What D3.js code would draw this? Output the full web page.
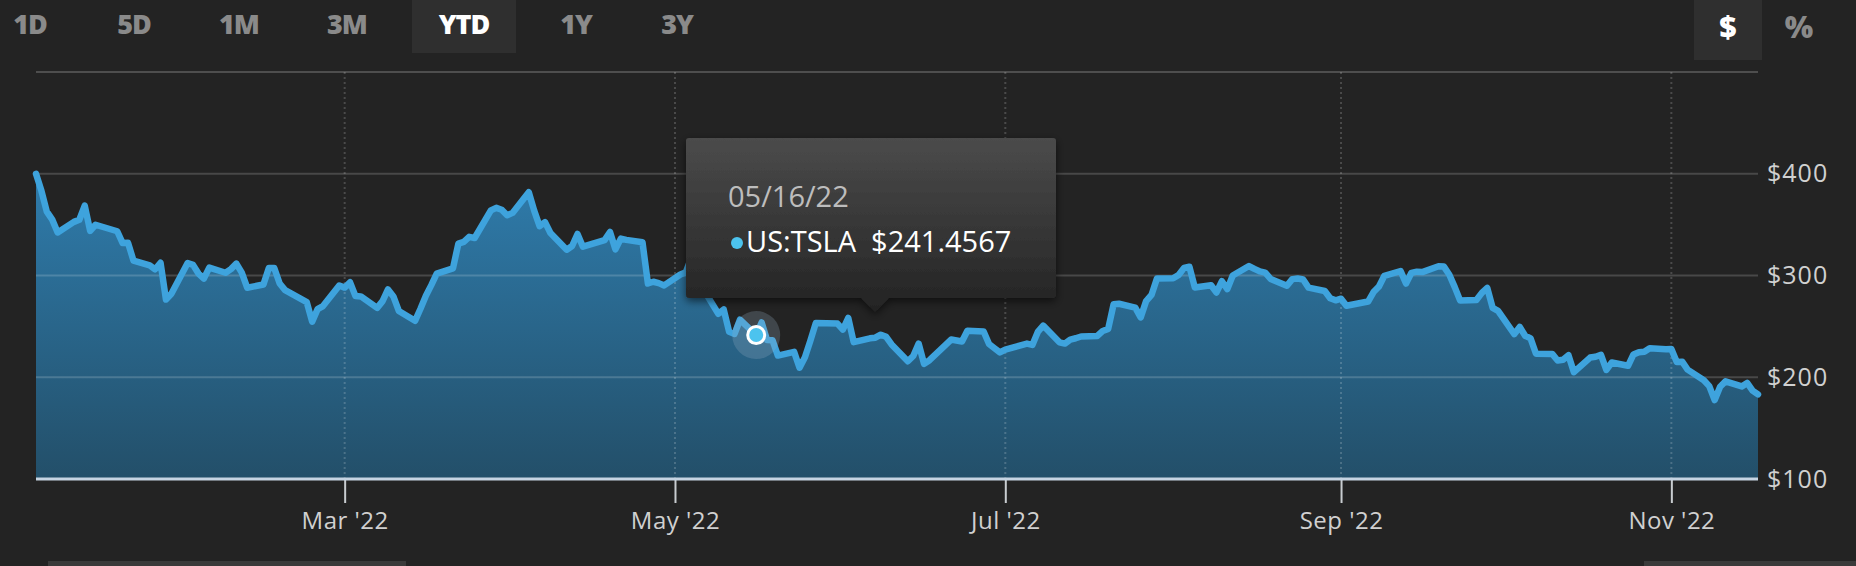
<!DOCTYPE html>
<html><head><meta charset="utf-8">
<script src="https://cdn.jsdelivr.net/npm/d3@7"></script>
<style>html,body{margin:0;padding:0;background:#232323;overflow:hidden}</style>
</head><body><svg id="c" width="1856" height="566"></svg>
<script>
// ---------- data ----------
const rangeButtons = ["1D","5D","1M","3M","YTD","1Y","3Y"];
const activeRange = "YTD";
const unitButtons = ["$","%"];
const activeUnit = "$";
const seriesName = "US:TSLA";
const dates = [
 "2022-01-03","2022-01-04","2022-01-05","2022-01-06","2022-01-07","2022-01-10","2022-01-11","2022-01-12","2022-01-13","2022-01-14","2022-01-18","2022-01-19","2022-01-20","2022-01-21","2022-01-24","2022-01-25","2022-01-26","2022-01-27","2022-01-28","2022-01-31",
 "2022-02-01","2022-02-02","2022-02-03","2022-02-04","2022-02-07","2022-02-08","2022-02-09","2022-02-10","2022-02-11","2022-02-14","2022-02-15","2022-02-16","2022-02-17","2022-02-18","2022-02-22","2022-02-23","2022-02-24","2022-02-25","2022-02-28",
 "2022-03-01","2022-03-02","2022-03-03","2022-03-04","2022-03-07","2022-03-08","2022-03-09","2022-03-10","2022-03-11","2022-03-14","2022-03-15","2022-03-16","2022-03-17","2022-03-18","2022-03-21","2022-03-22","2022-03-23","2022-03-24","2022-03-25","2022-03-28","2022-03-29","2022-03-30","2022-03-31",
 "2022-04-01","2022-04-04","2022-04-05","2022-04-06","2022-04-07","2022-04-08","2022-04-11","2022-04-12","2022-04-13","2022-04-14","2022-04-18","2022-04-19","2022-04-20","2022-04-21","2022-04-22","2022-04-25","2022-04-26","2022-04-27","2022-04-28","2022-04-29",
 "2022-05-02","2022-05-03","2022-05-04","2022-05-05","2022-05-06","2022-05-09","2022-05-10","2022-05-11","2022-05-12","2022-05-13","2022-05-16","2022-05-17","2022-05-18","2022-05-19","2022-05-20","2022-05-23","2022-05-24","2022-05-25","2022-05-26","2022-05-27","2022-05-31",
 "2022-06-01","2022-06-02","2022-06-03","2022-06-06","2022-06-07","2022-06-08","2022-06-09","2022-06-10","2022-06-13","2022-06-14","2022-06-15","2022-06-16","2022-06-17","2022-06-21","2022-06-22","2022-06-23","2022-06-24","2022-06-27","2022-06-28","2022-06-29","2022-06-30",
 "2022-07-01","2022-07-05","2022-07-06","2022-07-07","2022-07-08","2022-07-11","2022-07-12","2022-07-13","2022-07-14","2022-07-15","2022-07-18","2022-07-19","2022-07-20","2022-07-21","2022-07-22","2022-07-25","2022-07-26","2022-07-27","2022-07-28","2022-07-29",
 "2022-08-01","2022-08-02","2022-08-03","2022-08-04","2022-08-05","2022-08-08","2022-08-09","2022-08-10","2022-08-11","2022-08-12","2022-08-15","2022-08-16","2022-08-17","2022-08-18","2022-08-19","2022-08-22","2022-08-23","2022-08-24","2022-08-25","2022-08-26","2022-08-29","2022-08-30","2022-08-31",
 "2022-09-01","2022-09-02","2022-09-06","2022-09-07","2022-09-08","2022-09-09","2022-09-12","2022-09-13","2022-09-14","2022-09-15","2022-09-16","2022-09-19","2022-09-20","2022-09-21","2022-09-22","2022-09-23","2022-09-26","2022-09-27","2022-09-28","2022-09-29","2022-09-30",
 "2022-10-03","2022-10-04","2022-10-05","2022-10-06","2022-10-07","2022-10-10","2022-10-11","2022-10-12","2022-10-13","2022-10-14","2022-10-17","2022-10-18","2022-10-19","2022-10-20","2022-10-21","2022-10-24","2022-10-25","2022-10-26","2022-10-27","2022-10-28","2022-10-31",
 "2022-11-01","2022-11-02","2022-11-03","2022-11-04","2022-11-07","2022-11-08","2022-11-09","2022-11-10","2022-11-11","2022-11-14","2022-11-15","2022-11-16","2022-11-17"
];
const closes = [
 399.93,383.20,362.71,354.90,342.32,352.71,354.80,368.74,343.85,349.87,343.50,331.88,332.09,314.63,310.00,306.13,312.47,276.37,282.12,312.24,
 310.42,301.89,297.05,307.77,302.69,306.30,311.67,302.79,288.02,291.12,307.48,307.33,292.14,285.66,273.84,254.68,266.92,269.96,290.14,
 288.12,293.30,279.76,279.43,268.19,274.80,286.32,279.43,265.12,255.46,267.30,280.08,290.53,301.80,307.05,331.33,333.04,337.97,336.88,363.95,366.52,364.66,359.20,
 361.53,381.82,363.75,348.59,352.42,341.83,325.31,328.98,340.79,328.33,334.76,342.72,325.73,336.26,335.02,332.67,292.14,293.84,292.50,290.25,
 300.98,303.08,317.54,291.09,288.55,262.37,266.68,244.67,242.67,256.53,241.46,253.87,236.60,236.47,221.30,224.97,209.39,219.60,235.91,253.21,252.75,
 246.79,258.33,234.52,238.28,238.89,241.87,239.71,232.23,215.74,220.89,233.00,213.10,216.76,237.04,236.09,235.07,245.71,244.92,232.66,228.49,224.47,
 227.26,233.07,231.73,244.54,250.76,234.34,233.07,237.04,238.31,240.07,240.55,245.53,247.50,271.71,272.24,268.43,258.86,274.82,280.90,297.15,
 297.28,300.59,307.40,308.63,288.17,290.42,283.33,294.36,286.63,300.03,309.32,306.56,303.99,302.87,296.67,289.91,296.45,297.10,296.07,288.09,284.82,277.70,275.61,
 277.16,270.21,274.42,283.70,289.26,299.68,304.42,292.13,302.61,303.75,303.35,309.07,308.73,300.80,288.59,275.33,276.01,282.94,287.81,268.21,265.25,
 242.40,249.44,240.81,238.13,223.07,222.96,216.50,217.24,221.72,204.99,219.35,220.19,222.04,207.28,214.44,211.25,222.42,224.64,225.09,228.52,227.54,
 227.82,214.98,215.31,207.47,197.08,191.30,177.59,190.72,195.97,190.95,194.42,186.92,183.17
];
const xTickDates = ["2022-03-01","2022-05-01","2022-07-01","2022-09-01","2022-11-01"];
const yTickValues = [100,200,300,400];
const hoverDate = "2022-05-16";
const hoverValue = 241.4567;

// ---------- layout ----------
const svg = d3.select("#c");
const W = 1856, H = 566;
const pL = 36, pR = 1758, pT = 72, pB = 479;
const parse = d3.utcParse("%Y-%m-%d");
const data = dates.map((d,i)=>({date:parse(d), value:closes[i]}));

const x = d3.scaleUtc().domain(d3.extent(data, d=>d.date)).range([pL,pR]);
const y = d3.scaleLinear().domain([100,500]).range([pB,pT]);

svg.append("rect").attr("width",W).attr("height",H).attr("fill","#232323");

const defs = svg.append("defs");
const ag = defs.append("linearGradient").attr("id","areaGrad").attr("gradientUnits","userSpaceOnUse")
  .attr("x1",0).attr("x2",0).attr("y1",y(400)).attr("y2",pB);
ag.append("stop").attr("offset",0).attr("stop-color","#2f7cac");
ag.append("stop").attr("offset",1).attr("stop-color","#234f69");
const tg = defs.append("linearGradient").attr("id","tipGrad").attr("x1",0).attr("x2",0).attr("y1",0).attr("y2",1);
tg.append("stop").attr("offset",0).attr("stop-color","#4b4b4b");
tg.append("stop").attr("offset",1).attr("stop-color","#232323");
const sh = defs.append("filter").attr("id","shadow").attr("x","-20%").attr("y","-20%").attr("width","140%").attr("height","150%");
sh.append("feDropShadow").attr("dx",0).attr("dy",3).attr("stdDeviation",4).attr("flood-color","#000").attr("flood-opacity",0.6);

// buttons
const btnX = [30,134,239,347,464,576,677];
const bg = svg.append("g");
rangeButtons.forEach((b,i)=>{
  if(b===activeRange) bg.append("rect").attr("x",btnX[i]-52).attr("y",0).attr("width",104).attr("height",53).attr("fill","#2f2f2f");
  bg.append("text").attr("x",btnX[i]).attr("y",34).attr("text-anchor","middle")
    .attr("font-family","'Open Sans', sans-serif").attr("font-weight",800).attr("font-size",27)
    .attr("letter-spacing",-1)
    .attr("fill", b===activeRange ? "#ffffff" : "#8a8a8a").text(b);
});
const unitX = [1728,1799];
unitButtons.forEach((b,i)=>{
  if(b===activeUnit) bg.append("rect").attr("x",1694).attr("y",0).attr("width",68).attr("height",60).attr("fill","#2f2f2f");
  bg.append("text").attr("x",unitX[i]).attr("y",38).attr("text-anchor","middle")
    .attr("font-family","'Open Sans', sans-serif").attr("font-weight",800).attr("font-size",30)
    .attr("fill", b===activeUnit ? "#ffffff" : "#8a8a8a").text(b);
});

// top border
svg.append("line").attr("x1",pL).attr("x2",pR).attr("y1",pT).attr("y2",pT)
  .attr("stroke","#4e4e4e").attr("stroke-width",2);

// area
const area = d3.area().x(d=>x(d.date)).y0(pB).y1(d=>y(d.value));
svg.append("path").datum(data).attr("d",area).attr("fill","url(#areaGrad)");

// gridlines
const xt = xTickDates.map(parse);
svg.append("g").selectAll("line").data(xt).join("line")
  .attr("x1",d=>x(d)).attr("x2",d=>x(d)).attr("y1",pT).attr("y2",pB)
  .attr("stroke","rgba(255,255,255,0.18)").attr("stroke-width",2).attr("stroke-dasharray","2,3");
svg.append("g").selectAll("line").data(yTickValues.filter(v=>v>100)).join("line")
  .attr("x1",pL).attr("x2",pR).attr("y1",d=>y(d)).attr("y2",d=>y(d))
  .attr("stroke","rgba(255,255,255,0.17)").attr("stroke-width",2);

// line
const line = d3.line().x(d=>x(d.date)).y(d=>y(d.value));
svg.append("path").datum(data).attr("d",line).attr("fill","none")
  .attr("stroke","#3ea3dd").attr("stroke-width",6.5).attr("stroke-linejoin","round").attr("stroke-linecap","round");

// x axis
const xAxis = d3.axisBottom(x).tickValues(xt).tickFormat(d3.utcFormat("%b '%y")).tickSize(24).tickPadding(9);
const gx = svg.append("g").attr("transform",`translate(0,${pB})`).call(xAxis);
gx.select(".domain").remove();
gx.selectAll(".tick line").attr("stroke","#c8ccd0").attr("stroke-width",2);
gx.selectAll(".tick text").attr("fill","#d0d0d0").attr("font-family","'Open Sans', sans-serif").attr("font-size",24).attr("letter-spacing",0.5);
svg.append("line").attr("x1",pL).attr("x2",pR).attr("y1",pB).attr("y2",pB)
  .attr("stroke","#c6d4e2").attr("stroke-width",3);

// y axis
const yAxis = d3.axisRight(y).tickValues(yTickValues).tickFormat(d=>"$"+d).tickSize(0).tickPadding(9);
const gy = svg.append("g").attr("transform",`translate(${pR},0)`).call(yAxis);
gy.select(".domain").remove();
gy.selectAll(".tick text").attr("fill","#d0d0d0").attr("font-family","'Open Sans', sans-serif").attr("font-size",25).attr("letter-spacing",1);

// hover point
const hx = x(parse(hoverDate)), hy = y(hoverValue);
svg.append("circle").attr("cx",hx).attr("cy",hy).attr("r",24).attr("fill","rgba(150,175,195,0.25)");
svg.append("circle").attr("cx",hx).attr("cy",hy).attr("r",8.5).attr("fill","#4cc3ee").attr("stroke","#fff").attr("stroke-width",3);

// tooltip
const tip = svg.append("g").attr("filter","url(#shadow)");
const tx0 = 686, ty0 = 138, tw = 370, th = 160, ax = 875;
tip.append("path").attr("d",
  `M${tx0+3},${ty0} H${tx0+tw-3} Q${tx0+tw},${ty0} ${tx0+tw},${ty0+3} V${ty0+th-3} Q${tx0+tw},${ty0+th} ${tx0+tw-3},${ty0+th} H${ax+14} L${ax},${ty0+th+14} L${ax-14},${ty0+th} H${tx0+3} Q${tx0},${ty0+th} ${tx0},${ty0+th-3} V${ty0+3} Q${tx0},${ty0} ${tx0+3},${ty0} Z`)
  .attr("fill","url(#tipGrad)");
const tfmt = d3.utcFormat("%m/%d/%y");
svg.append("text").attr("x",728).attr("y",207).attr("font-family","'Open Sans', sans-serif").attr("font-size",29)
  .attr("fill","#bdbdbd").text(tfmt(parse(hoverDate)));
svg.append("circle").attr("cx",737).attr("cy",243).attr("r",6).attr("fill","#4cc3ee");
svg.append("text").attr("x",746).attr("y",252).attr("font-family","'Open Sans', sans-serif").attr("font-size",29)
  .attr("fill","#ffffff").attr("xml:space","preserve").text(seriesName + "  $" + hoverValue.toFixed(4));

// bottom scroll bars
svg.append("rect").attr("x",48).attr("y",561).attr("width",358).attr("height",5).attr("fill","#3a3a3a");
svg.append("rect").attr("x",1644).attr("y",561).attr("width",212).attr("height",5).attr("fill","#3a3a3a");
</script></body></html>
